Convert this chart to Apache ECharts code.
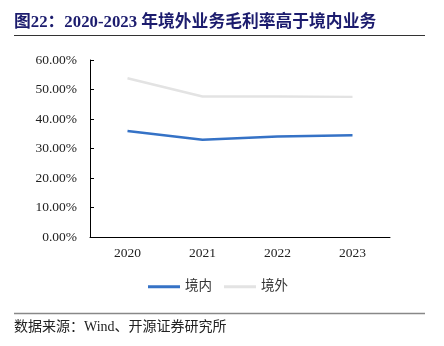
<!DOCTYPE html>
<html><head><meta charset="utf-8">
<script src="https://cdn.jsdelivr.net/npm/echarts@6/dist/echarts.min.js"></script>
<style>html,body{margin:0;padding:0;background:#fff}#c{width:444px;height:346px}</style>
</head><body><div id="c"></div>
<script>
const categories = ['2020', '2021', '2022', '2023'];
const domestic = [35.9, 33.0, 34.1, 34.5];
const overseas = [53.8, 47.6, 47.6, 47.5];
const seriesNames = ['境内', '境外'];
const titleText = '图22：2020-2023 年境外业务毛利率高于境内业务';
const sourceText = '数据来源：Wind、开源证券研究所';

const serif = '"Times New Roman","Liberation Serif","Noto Sans CJK SC",serif';
const chart = echarts.init(document.getElementById('c'), null, {renderer: 'canvas'});
chart.setOption({
  animation: false,
  backgroundColor: '#fff',
  title: {
    text: titleText, left: 14, top: 14, padding: 0,
    textStyle: {fontFamily: serif, fontSize: 16.8, fontWeight: 'bold', color: '#1c1c6e'}
  },
  graphic: [
    {type: 'line', shape: {x1: 14, y1: 35.5, x2: 425, y2: 35.5}, style: {stroke: '#333', lineWidth: 1}},
    {type: 'line', shape: {x1: 14, y1: 313.5, x2: 425, y2: 313.5}, style: {stroke: '#888', lineWidth: 1.5}},
    {type: 'text', left: 14, top: 320, style: {text: sourceText, fontFamily: serif, fontSize: 14, fill: '#222'}}
  ],
  legend: {
    data: seriesNames, left: 143, top: 275, itemWidth: 32, itemHeight: 10, itemGap: 12,
    textStyle: {fontFamily: serif, fontSize: 13.5, color: '#333'},
    icon: 'path://M0,3.5 L32,3.5 L32,6.5 L0,6.5 Z'
  },
  grid: {left: 90, right: 54, top: 60, bottom: 109},
  xAxis: {
    type: 'category', data: categories, boundaryGap: true,
    axisLine: {lineStyle: {color: '#000', width: 1}},
    axisTick: {show: false},
    axisLabel: {fontFamily: serif, fontSize: 13.5, color: '#222', margin: 10}
  },
  yAxis: {
    type: 'value', min: 0, max: 60, interval: 10,
    axisLine: {show: true, lineStyle: {color: '#000', width: 1}},
    axisTick: {show: true, inside: true, length: 4, lineStyle: {color: '#000'}},
    splitLine: {show: false},
    axisLabel: {fontFamily: serif, fontSize: 13.5, color: '#222', margin: 13,
      formatter: v => v.toFixed(2) + '%'}
  },
  series: [
    {name: seriesNames[0], type: 'line', data: domestic, symbol: 'none',
     lineStyle: {color: '#3572c6', width: 2.5}, itemStyle: {color: '#3572c6'}},
    {name: seriesNames[1], type: 'line', data: overseas, symbol: 'none',
     lineStyle: {color: '#e3e3e3', width: 2.5}, itemStyle: {color: '#e3e3e3'}}
  ]
});
</script></body></html>
